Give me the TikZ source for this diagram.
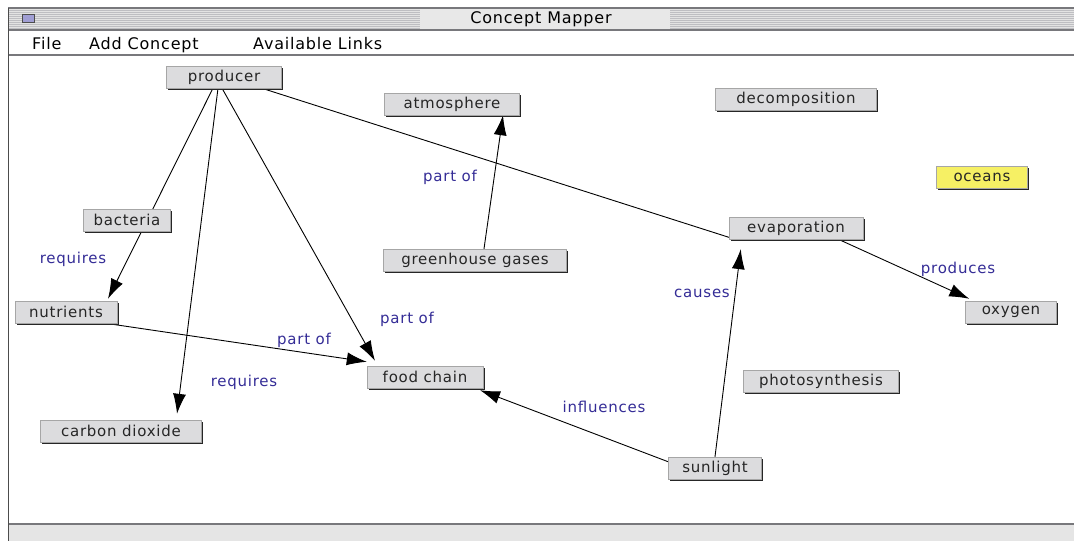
\documentclass[tikz,border=0pt]{standalone}
\usepackage{fontspec}
\setmainfont{DejaVu Sans}[LetterSpace=5]
\usetikzlibrary{arrows.meta,shadows,backgrounds}

\definecolor{boxgray}{RGB}{220,220,222}
\definecolor{linkblue}{RGB}{52,44,150}
\definecolor{barline}{RGB}{120,120,124}
\definecolor{stripe}{RGB}{190,190,194}

\begin{document}
\begin{tikzpicture}[x=1pt,y=-1pt]
	\tikzset{concept/.style = {shape=rectangle, draw=gray!70, fill=boxgray, minimum height=22pt, inner xsep=10pt,
		font=\fontsize{15}{17}\selectfont, text=black!85,
		general shadow={fill=black!85, shadow xshift=1.8pt, shadow yshift=-1.8pt}}}
	\tikzset{linklabel/.style = {text=linkblue, font=\fontsize{15}{17}\selectfont, inner sep=0pt}}
	\tikzset{menu/.style = {font=\fontsize{16}{18}\selectfont, inner sep=0pt}}
	\tikzset{edge/.style = {-{Latex[length=20pt,width=13pt]}, line width=0.9pt}}
	\useasboundingbox (0,0) rectangle (1074,541);

	% window frame
	\fill[gray!22] (8,8) rectangle (1074,30);
	\foreach \y in {10,12,...,28} {
		\draw[stripe, line width=0.7pt] (8,\y) -- (420,\y);
		\draw[stripe, line width=0.7pt] (670,\y) -- (1074,\y);
	}
	\fill[gray!18] (420,9) rectangle (670,29);
	\draw[barline, line width=1.5pt] (8,8) -- (1074,8);
	\draw[barline, line width=1.5pt] (8,30) -- (1074,30);
	\draw[barline, line width=1.5pt] (8,55) -- (1074,55);
	\fill[gray!20] (8,524) rectangle (1074,541);
	\draw[barline, line width=1.5pt] (8,524) -- (1074,524);
	\draw[black!70, line width=1pt] (8,8) -- (8,541);
	\node[draw=black!70, fill={rgb,255:red,160;green,158;blue,212}, minimum width=12pt, minimum height=8pt, inner sep=0pt] (winbtn) at (28,18) {};
	\node[menu] (title) at (541,19) {Concept Mapper};
	\node[menu, anchor=base west] (mfile) at (32,49) {File};
	\node[menu, anchor=base west] (madd) at (89,49) {Add Concept};
	\node[menu, anchor=base west] (mlinks) at (253,49) {Available Links};

	% concepts
	\node[concept, minimum width=115pt] (producer) at (224,77) {producer};
	\node[concept, minimum width=135pt] (atmosphere) at (452,104) {atmosphere};
	\node[concept, minimum width=161pt] (decomp) at (796,99) {decomposition};
	\node[concept, minimum width=91pt, fill={rgb,255:red,246;green,240;blue,100}] (oceans) at (982,177) {oceans};
	\node[concept, minimum width=85pt] (bacteria) at (127,220) {bacteria};
	\node[concept, minimum width=134pt] (evap) at (796,228) {evaporation};
	\node[concept, minimum width=183pt] (ghg) at (475,260) {greenhouse gases};
	\node[concept, minimum width=102pt] (nutrients) at (66,312) {nutrients};
	\node[concept, minimum width=91pt] (oxygen) at (1011,312) {oxygen};
	\node[concept, minimum width=116pt] (food) at (425,377) {food chain};
	\node[concept, minimum width=155pt] (photo) at (821,381) {photosynthesis};
	\node[concept, minimum width=161pt] (carbon) at (121,431) {carbon dioxide};
	\node[concept, minimum width=93pt] (sunlight) at (715,468) {sunlight};

	% links, kept under the boxes
	\begin{pgfonlayer}{background}
	\draw[edge] ([xshift=-11pt]producer.south) -- ([xshift=42pt,yshift=2pt]nutrients.north);
	\draw[edge] ([xshift=-6pt]producer.south) -- ([xshift=56pt,yshift=6pt]carbon.north);
	\draw[edge] ([xshift=-2pt]producer.south) -- ([xshift=-50pt,yshift=5pt]food.north);
	\draw[line width=0.9pt] ([xshift=-20pt]producer.south east) -- ([xshift=6pt]evap.south west);
	\draw[edge] ([xshift=9pt]ghg.north) -- ([xshift=51pt]atmosphere.south);
	\draw[edge] ([xshift=-12pt]nutrients.south east) -- ([yshift=4pt]food.north west);
	\draw[edge] ([xshift=-25pt]evap.south east) -- ([xshift=4pt,yshift=2pt]oxygen.north west);
	\draw[edge, shorten >=10pt] (sunlight.north) -- ([xshift=-54pt]evap.south);
	\draw[edge] ([yshift=-5pt]sunlight.north west) -- ([xshift=55pt,yshift=-2pt]food.south);
	\end{pgfonlayer}

	% link labels
	\node[linklabel] (lreqa) at (73,259) {requires};
	\node[linklabel] (lreqb) at (244,382) {requires};
	\node[linklabel] (lpartfood) at (407,319) {part of};
	\node[linklabel] (lpartatm) at (450,177) {part of};
	\node[linklabel] (lpartnut) at (304,340) {part of};
	\node[linklabel] (lprod) at (958,269) {produces};
	\node[linklabel] (lcause) at (702,293) {causes};
	\node[linklabel] (linfl) at (604,407) {influences};
\end{tikzpicture}
\end{document}
